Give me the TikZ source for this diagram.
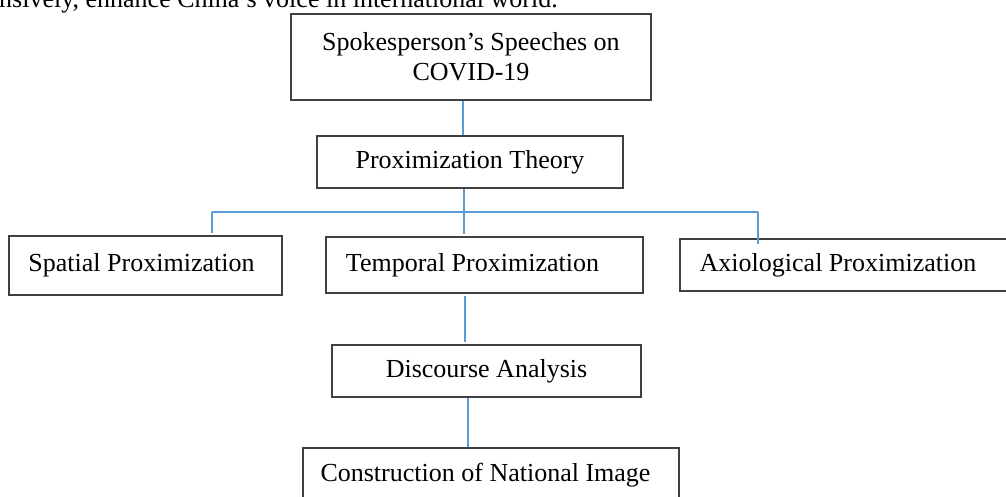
\documentclass[tikz,border=0pt]{standalone}
\usepackage{fontspec}
\setmainfont{Liberation Serif}
\usetikzlibrary{calc}
\definecolor{connblue}{HTML}{5B9BD5}
\definecolor{boxgray}{HTML}{404040}
\begin{document}
\begin{tikzpicture}[x=1pt,y=1pt,
  box/.style={draw=boxgray,line width=1.2pt,rectangle,inner sep=0pt,align=center,
    font=\fontsize{26}{30}\selectfont},
  conn/.style={draw=connblue,line width=1.1pt}]
\useasboundingbox (0,0) rectangle (1006,-496);
\node[anchor=base west,inner sep=0pt,font=\fontsize{26}{30}\selectfont] (cap) at (-1,-7)
  {nsively, enhance China's voice in international world.};
\node[box,minimum width=360,minimum height=86] (top) at (471,-57)
  {Spokesperson’s Speeches on\\COVID-19};
\node[box,minimum width=306,minimum height=52] (prox) at (470,-162) {Proximization Theory};
\node[box,minimum width=273,minimum height=59] (spatial) at (145.5,-265.5) {Spatial Proximization\hspace{8pt}};
\node[box,minimum width=317,minimum height=56] (temporal) at (484.5,-265) {Temporal Proximization\hspace{24pt}};
\node[box,minimum width=332,minimum height=52] (axio) at (846,-265) {Axiological Proximization\hspace{16pt}};
\node[box,minimum width=309,minimum height=52] (disc) at (486.5,-371) {Discourse Analysis};
\node[box,minimum width=376,minimum height=54] (cons) at (491,-475) {Construction of National Image\hspace{11pt}};
\coordinate (busL) at (212,-212);
\coordinate (busM) at (464,-212);
\coordinate (busR) at (758,-212);
\coordinate (topx) at (463,0);
\coordinate (tempx) at (465,0);
\coordinate (discx) at (468,0);
\draw[conn] (top.south -| topx) -- (prox.north -| topx);
\draw[conn] (prox.south -| busM) -- (busM);
\draw[conn] (busL) -- (busR);
\draw[conn] (busL) -- ($(busL |- spatial.north)+(0,2)$);
\draw[conn] (busM) -- ($(busM |- temporal.north)+(0,2)$);
\draw[conn] (busR) -- ($(busR |- axio.north)+(0,-6)$);
\draw[conn] ($(temporal.south -| tempx)+(0,-2)$) -- ($(disc.north -| tempx)+(0,2)$);
\draw[conn] (disc.south -| discx) -- (cons.north -| discx);
\end{tikzpicture}
\end{document}
